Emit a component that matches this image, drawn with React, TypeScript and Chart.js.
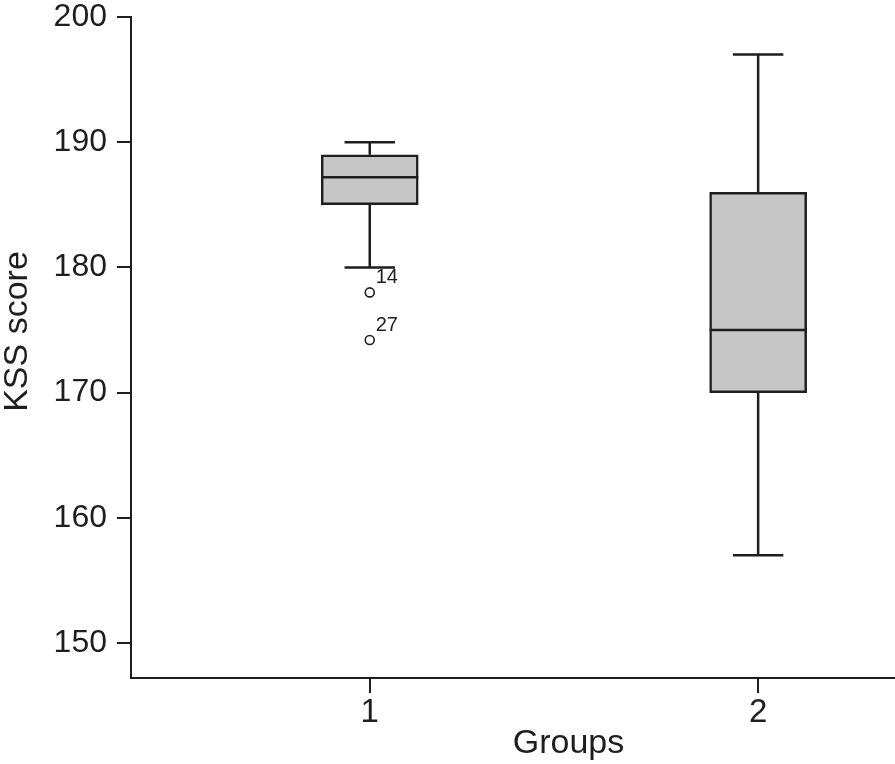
import React, { useEffect, useRef } from "react";
import { Chart, registerables } from "chart.js";

Chart.register(...registerables);

// ---- data ----
const CATEGORIES = ["1", "2"];
const GROUP_X = [1, 2];
const WHISKER_LOW = [180, 157];
const Q1 = [185, 170];
const MEDIAN = [187.2, 175];
const Q3 = [189, 186];
const WHISKER_HIGH = [190, 197];

const OUTLIER_GROUP = [1, 1];
const OUTLIER_VALUE = [178, 174.2];
const OUTLIER_LABEL = ["14", "27"];

const Y_TICKS = [150, 160, 170, 180, 190, 200];
const Y_MIN = 147.2;
const Y_MAX = 200;
const X_MIN = 0.3853;
const X_MAX = 2.6379;

const Y_TITLE = "KSS score";
const X_TITLE = "Groups";

const INK = "#1e1e1e";
const BOX_FILL = "#c6c6c6";
const FONT = "'Liberation Sans', Arial, Helvetica, sans-serif";

const boxPlugin = {
  id: "boxWhiskers",
  afterDatasetsDraw(chart: any) {
    const { ctx } = chart;
    const xs = chart.scales.x;
    const ys = chart.scales.y;
    const meta = chart.getDatasetMeta(0);
    ctx.save();
    ctx.strokeStyle = INK;
    ctx.lineWidth = 2.5;
    ctx.lineCap = "butt";
    GROUP_X.forEach((gx, i) => {
      const el = meta.data[i];
      const halfBox = el ? el.width / 2 : 48;
      const halfCap = halfBox * 0.52;
      const x = xs.getPixelForValue(gx);
      const yLow = ys.getPixelForValue(WHISKER_LOW[i]);
      const yQ1 = ys.getPixelForValue(Q1[i]);
      const yMed = ys.getPixelForValue(MEDIAN[i]);
      const yQ3 = ys.getPixelForValue(Q3[i]);
      const yHigh = ys.getPixelForValue(WHISKER_HIGH[i]);
      ctx.beginPath();
      ctx.moveTo(x, yQ3);
      ctx.lineTo(x, yHigh);
      ctx.moveTo(x - halfCap, yHigh);
      ctx.lineTo(x + halfCap, yHigh);
      ctx.moveTo(x, yQ1);
      ctx.lineTo(x, yLow);
      ctx.moveTo(x - halfCap, yLow);
      ctx.lineTo(x + halfCap, yLow);
      ctx.moveTo(x - halfBox, yMed);
      ctx.lineTo(x + halfBox, yMed);
      ctx.stroke();
    });
    // outlier labels
    const om = chart.getDatasetMeta(1);
    ctx.fillStyle = INK;
    ctx.font = `20px ${FONT}`;
    ctx.textAlign = "left";
    ctx.textBaseline = "alphabetic";
    om.data.forEach((pt: any, i: number) => {
      ctx.fillText(OUTLIER_LABEL[i], pt.x + 6, pt.y - 9);
    });
    // y axis title
    const a = chart.chartArea;
    ctx.font = `34px ${FONT}`;
    ctx.textAlign = "center";
    ctx.textBaseline = "middle";
    ctx.translate(18, (a.top + a.bottom) / 2 - 16);
    ctx.rotate(-Math.PI / 2);
    ctx.fillText(Y_TITLE, 0, 0);
    ctx.restore();
  },
};

export default function App() {
  const ref = useRef<HTMLCanvasElement | null>(null);
  useEffect(() => {
    if (!ref.current) return;
    const chart = new Chart(ref.current, {
      type: "bar",
      data: {
        datasets: [
          {
            type: "bar",
            data: GROUP_X.map((x, i) => ({ x, y: [Q1[i], Q3[i]] })) as any,
            backgroundColor: BOX_FILL,
            borderColor: INK,
            borderWidth: 2.5,
            borderSkipped: false,
            barThickness: 97,
          } as any,
          {
            type: "scatter",
            data: OUTLIER_GROUP.map((x, i) => ({ x, y: OUTLIER_VALUE[i] })),
            pointStyle: "circle",
            pointRadius: 4.5,
            pointBackgroundColor: "rgba(0,0,0,0)",
            pointBorderColor: INK,
            pointBorderWidth: 1.6,
          } as any,
        ],
      },
      options: {
        animation: false,
        responsive: true,
        maintainAspectRatio: false,
        layout: { padding: { top: 17, left: 0, right: 0, bottom: 0 } },
        plugins: {
          legend: { display: false },
          tooltip: { enabled: false },
        },
        scales: {
          x: {
            type: "linear",
            min: X_MIN,
            max: X_MAX,
            offset: false,
            afterBuildTicks: (s: any) => {
              s.ticks = GROUP_X.map((v) => ({ value: v }));
            },
            afterFit: (s: any) => {
              s.height = 86;
              s.paddingLeft = 0;
              s.paddingRight = 0;
            },
            ticks: {
              color: INK,
              padding: 3,
              maxRotation: 0,
              font: { family: FONT, size: 33, lineHeight: 1 },
              callback: (v: any) => {
                const idx = GROUP_X.indexOf(Number(v));
                return idx >= 0 ? CATEGORIES[idx] : "";
              },
            },
            grid: {
              display: true,
              offset: false,
              drawOnChartArea: false,
              drawTicks: true,
              tickLength: 15,
              color: INK,
              lineWidth: 2,
            },
            border: { display: true, color: INK, width: 2 },
            title: {
              display: true,
              text: X_TITLE,
              color: INK,
              font: { family: FONT, size: 34, lineHeight: 1 },
              padding: { top: 0, bottom: 3 },
            },
          },
          y: {
            type: "linear",
            min: Y_MIN,
            max: Y_MAX,
            afterBuildTicks: (s: any) => {
              s.ticks = Y_TICKS.map((v) => ({ value: v }));
            },
            afterFit: (s: any) => {
              s.width = 131;
              s.paddingTop = 0;
              s.paddingBottom = 0;
            },
            ticks: {
              color: INK,
              padding: 10,
              font: { family: FONT, size: 32, lineHeight: 1 },
            },
            grid: {
              display: true,
              drawOnChartArea: false,
              drawTicks: true,
              tickLength: 14,
              color: INK,
              lineWidth: 2,
            },
            border: { display: true, color: INK, width: 2 },
            title: { display: false },
          },
        },
      },
      plugins: [boxPlugin],
    });
    return () => chart.destroy();
  }, []);

  return (
    <div
      style={{
        position: "absolute",
        left: 0,
        top: 0,
        width: 895,
        height: 764,
        overflow: "hidden",
        background: "#fff",
      }}
    >
      <div style={{ position: "relative", width: 1012, height: 764 }}>
        <canvas ref={ref} />
      </div>
    </div>
  );
}
